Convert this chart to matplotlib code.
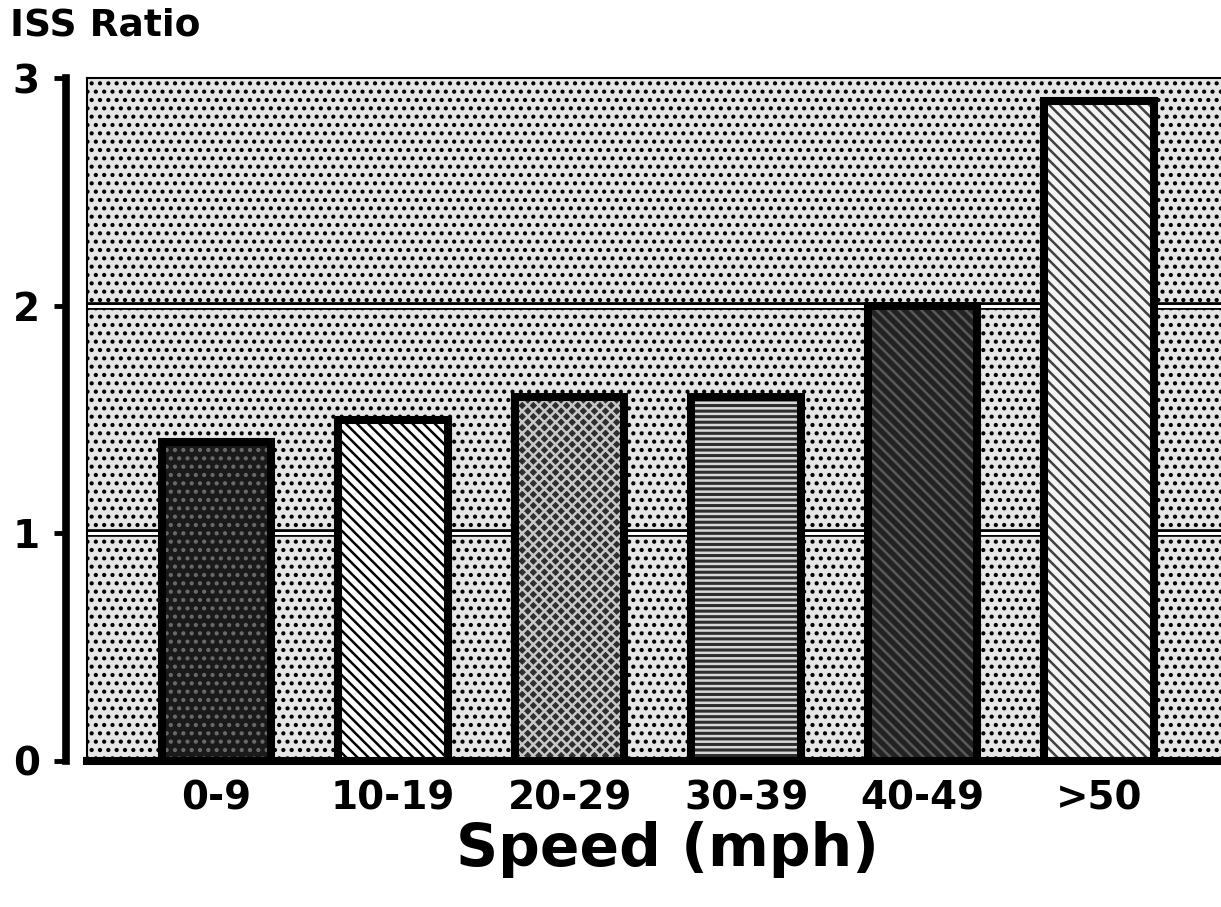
import matplotlib
matplotlib.use("Agg")
import matplotlib.pyplot as plt
from matplotlib.patches import Rectangle

categories = ["0-9", "10-19", "20-29", "30-39", "40-49", ">50"]
iss_ratio = [1.4, 1.5, 1.6, 1.6, 2.0, 2.9]

# fill look of each bar: face colour, hatch, hatch colour
faces = ["#1a1a1a", "white", "#2e2e2e", "#2e2e2e", "#222222", "#f4f4f4"]
hatches = ["..", "\\\\\\", "xxx", "---", "\\\\\\", "\\\\\\"]
hatch_cols = ["#6a6a6a", "black", "#c8c8c8", "#d8d8d8", "#5a5a5a", "#404040"]

plt.rcParams["font.family"] = "DejaVu Sans"
plt.rcParams["font.weight"] = "bold"
plt.rcParams["hatch.linewidth"] = 1.8

fig = plt.figure(figsize=(12.21, 9.07), dpi=100)
ax = fig.add_axes([87 / 1221, 1 - 761 / 907, 1 - 87 / 1221, (761 - 78) / 907])

x = range(len(categories))
ax.set_xlim(-0.734, 5.69)
ax.set_ylim(0, 3)

# dotted background
bg = Rectangle((0, 0), 1, 1, transform=ax.transAxes, facecolor="#e6e6e6",
               edgecolor="black", hatch="..", linewidth=0, zorder=0)
ax.add_patch(bg)

# double grid lines
for g in [1, 2]:
    ax.axhline(g, color="black", lw=5.5, zorder=1)
    ax.axhline(g, color="white", lw=2.2, zorder=1.1)

# bar fills, then thick black outlines
ax.bar(x, iss_ratio, width=0.62, color=faces, edgecolor=hatch_cols,
       hatch=hatches, linewidth=0, zorder=2)
ax.bar(x, iss_ratio, width=0.62, fill=False, edgecolor="black",
       linewidth=5.8, zorder=3)

# thin left edge of the plot area
ax.plot([0, 0], [0, 1], transform=ax.transAxes, color="black", lw=1.5,
        zorder=4, clip_on=False)

ax.spines["right"].set_visible(False)
ax.spines["top"].set_linewidth(1.5)
ax.spines["bottom"].set_linewidth(5.8)
ax.spines["bottom"].set_zorder(5)
ax.spines["left"].set_position(("outward", 15))
ax.spines["left"].set_linewidth(5.5)
ax.spines["left"].set_bounds(0, 3)

ax.set_yticks([0, 1, 2, 3])
ax.set_yticklabels(["0", "1", "2", "3"])
ax.tick_params(axis="y", direction="out", length=9, width=3.5,
               labelsize=28, pad=10)
ax.set_xticks(list(x))
ax.set_xticklabels(categories)
ax.tick_params(axis="x", length=0, labelsize=28, pad=13)

fig.text(10 / 1221, 1 - 8 / 907, "ISS Ratio", fontsize=27,
         fontweight="bold", ha="left", va="top")
fig.text(667 / 1221, 1 - 850 / 907, "Speed (mph)", fontsize=42,
         fontweight="bold", ha="center", va="center")

fig.savefig("out.png", dpi=100)
